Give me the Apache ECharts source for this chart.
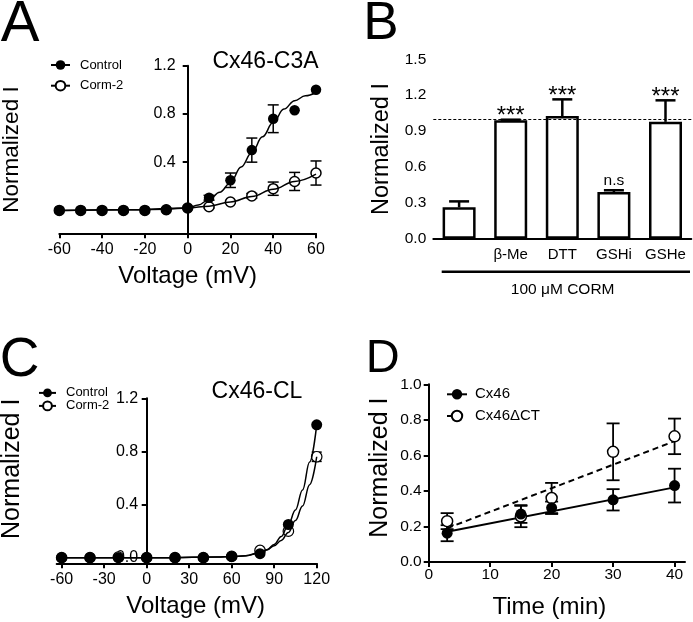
<!DOCTYPE html>
<html><head><meta charset="utf-8">
<script src="https://cdn.jsdelivr.net/npm/echarts@6/dist/echarts.min.js"></script>
<style>html,body{margin:0;padding:0;background:#fff}#c{width:693px;height:622px}</style>
</head><body><div id="c"></div>
<script>
// ---------- Panel A (Cx46-C3A) ----------
const aVoltage = [-60,-50,-40,-30,-20,-10,0,10,20,30,40,50,60];
const aControl = [0,0,0,0,0,0.005,0.02,0.105,0.25,0.5,0.76,0.83,1.0];
const aControlErr = [0,0,0,0,0,0,0,0.02,0.06,0.1,0.115,0,0];
const aCorm = [0,0,0,0,0,0.005,0.02,0.03,0.07,0.12,0.18,0.24,0.31];
const aCormErr = [0,0,0,0,0,0,0,0.01,0.01,0.02,0.055,0.075,0.1];
const aFitV = [-60,-30,-10,0,5,10,15,20,25,30,35,40,45,50,55,60];
const aControlFit = [0,0.005,0.01,0.02,0.045,0.09,0.15,0.23,0.36,0.48,0.61,0.73,0.84,0.91,0.95,0.98];
const aCormFitV = [-60,-30,0,10,20,30,40,50,60];
const aCormFit = [0,0.005,0.02,0.035,0.07,0.115,0.175,0.24,0.3];
const aYTicks = [0.4,0.8,1.2];

// ---------- Panel B ----------
const bCategories = ['', 'β-Me', 'DTT', 'GSHi', 'GSHe'];
const bValues = [0.262, 0.99, 1.025, 0.39, 0.977];
const bErr = [0.05, 0.005, 0.14, 0.015, 0.18];
const bSig = ['', '***', '***', 'n.s', '***'];
const bRef = 1.0;

// ---------- Panel C (Cx46-CL) ----------
const cVoltage = [-60,-40,-20,0,20,40,60,80,100,120];
const cControl = [0,0,0,0,0,0,0.01,0.03,0.25,1.0];
const cCorm = [0,0,0.005,0,0,0,0.01,0.055,0.2,0.76];
const cCormErr = [0,0,0,0,0,0,0,0,0.01,0.035];
const cFitV = [-60,0,50,60,70,80,85,90,95,100,105,110,115,120];
const cControlFit = [0,0,0.005,0.008,0.015,0.035,0.06,0.1,0.16,0.25,0.36,0.51,0.72,1.0];
const cCormFit = [0,0,0.005,0.008,0.015,0.04,0.06,0.09,0.13,0.19,0.28,0.39,0.55,0.76];
const cXTicks = [-60,-30,0,30,60,90,120];
const cYTicks = [0,0.4,0.8,1.2];

// ---------- Panel D ----------
const dTime = [3,15,20,30,40];
const dCx46 = [0.162,0.27,0.305,0.35,0.43];
const dCx46Err = [0.045,0.05,0.035,0.06,0.095];
const dCT = [0.23,0.256,0.36,0.62,0.707];
const dCTErr = [0.045,0.06,0.085,0.16,0.1];
const dFitT = [3,40];
const dCx46Fit = [0.17,0.42];
const dCTFit = [0.19,0.68];
const dXTicks = [0,10,20,30,40];

const FF = 'Liberation Sans, Arial, Helvetica, sans-serif';
const K = '#000';
const zip = (xs, ys) => xs.map((x,i)=>[x, ys[i]]);
const zip3 = (xs, ys, es) => xs.map((x,i)=>[x, ys[i], es[i]]);

function errRender(capHalf, lw){
  return function(params, api){
    const x = api.value(0), y = api.value(1), e = api.value(2);
    if (!e) return null;
    const t = api.coord([x, y+e]), b = api.coord([x, y-e]);
    const st = {stroke:K, lineWidth:lw, fill:null};
    return {type:'group', children:[
      {type:'line', shape:{x1:t[0],y1:t[1],x2:b[0],y2:b[1]}, style:st},
      {type:'line', shape:{x1:t[0]-capHalf,y1:t[1],x2:t[0]+capHalf,y2:t[1]}, style:st},
      {type:'line', shape:{x1:b[0]-capHalf,y1:b[1],x2:b[0]+capHalf,y2:b[1]}, style:st}
    ]};
  };
}

function axLine(onZero){ return {onZero:onZero, lineStyle:{color:K, width:2}}; }
const tick = {length:5, lineStyle:{color:K, width:2}};
function lab(fs, margin, extra){ return Object.assign({color:K, fontSize:fs, fontFamily:FF, margin:margin}, extra||{}); }
function nameStyle(fs, extra){ return Object.assign({color:K, fontSize:fs, fontFamily:FF}, extra||{}); }
const fmt1 = v => Number(v).toFixed(1);
const filled = {color:K, opacity:1};
const hollow = (bw)=>({color:'#fff', borderColor:K, borderWidth:bw, opacity:1});

const chart = echarts.init(document.getElementById('c'), null, {renderer:'canvas'});

const option = {
  backgroundColor:'#fff',
  animation:false,
  grid:[
    {left:59.3, top:65.7, width:256.7, height:167.6, outerBoundsMode:'none', containLabel:false},
    {left:433.3, top:59.3, width:258, height:179.4, outerBoundsMode:'none', containLabel:false},
    {left:56.7, top:398.3, width:260, height:165, outerBoundsMode:'none', containLabel:false},
    {left:428.7, top:384.3, width:256.3, height:177.7, outerBoundsMode:'none', containLabel:false}
  ],
  xAxis:[
    {gridIndex:0, type:'value', min:-60, max:60, interval:20,
     axisLine:axLine(false), axisTick:tick, axisLabel:lab(16,8), splitLine:{show:false},
     name:'Voltage (mV)', nameLocation:'middle', nameGap:31, nameMoveOverlap:false, nameTextStyle:nameStyle(24)},
    {gridIndex:1, type:'category', data:bCategories, boundaryGap:true,
     axisLine:axLine(false), axisTick:Object.assign({alignWithLabel:true}, tick), axisLabel:lab(15,9, {interval:0}), splitLine:{show:false}},
    {gridIndex:2, type:'value', min:-63.5, max:120,
     axisLine:axLine(false), axisTick:Object.assign({customValues:cXTicks}, tick), axisLabel:lab(16,8.5,{customValues:cXTicks}), splitLine:{show:false},
     name:'Voltage (mV)', nameLocation:'middle', nameGap:31, nameMoveOverlap:false, nameTextStyle:nameStyle(24,{padding:[0,0,0,18]})},
    {gridIndex:3, type:'value', min:0, max:41.7,
     axisLine:axLine(false), axisTick:Object.assign({customValues:dXTicks}, tick), axisLabel:lab(15.5,5,{customValues:dXTicks}), splitLine:{show:false},
     name:'Time (min)', nameLocation:'middle', nameGap:33, nameMoveOverlap:false, nameTextStyle:nameStyle(24,{padding:[0,15,0,0]})}
  ],
  yAxis:[
    {gridIndex:0, type:'value', min:-0.19, max:1.2, offset:-128.4,
     axisLine:axLine(false), axisTick:Object.assign({customValues:aYTicks}, tick), axisLabel:lab(16,12,{customValues:aYTicks, formatter:fmt1}), splitLine:{show:false},
     name:'Normalized I', nameLocation:'middle', nameGap:164, nameMoveOverlap:false, nameTextStyle:nameStyle(22.5)},
    {gridIndex:1, type:'value', min:0, max:1.5, interval:0.3,
     axisLine:axLine(false), axisTick:tick, axisLabel:lab(15.5,7,{formatter:fmt1}), splitLine:{show:false},
     name:'Normalized I', nameLocation:'middle', nameGap:40, nameMoveOverlap:false, nameTextStyle:nameStyle(23.5)},
    {gridIndex:2, type:'value', min:-0.042, max:1.2, offset:-90,
     axisLine:axLine(false), axisTick:Object.assign({customValues:cYTicks}, tick), axisLabel:lab(16,8.5,{customValues:cYTicks, formatter:fmt1}), splitLine:{show:false},
     name:'Normalized I', nameLocation:'middle', nameGap:122, nameMoveOverlap:false, nameTextStyle:nameStyle(25,{padding:[0,0,0,24]})},
    {gridIndex:3, type:'value', min:0, max:1.0, interval:0.2,
     axisLine:axLine(false), axisTick:tick, axisLabel:lab(15.5,7,{formatter:fmt1}), splitLine:{show:false},
     name:'Normalized I', nameLocation:'middle', nameGap:36, nameMoveOverlap:false, nameTextStyle:nameStyle(25,{padding:[0,0,0,11]})}
  ],
  legend:[
    {left:50, top:58.5, padding:0, orient:'vertical', itemWidth:19, itemHeight:12, itemGap:7.7,
     textStyle:{color:K, fontSize:13, fontFamily:FF, lineHeight:13, padding:[0,0,0,5]}, data:['Control','Corm-2'], selectedMode:false},
    {left:38, top:386.4, padding:0, orient:'vertical', itemWidth:17, itemHeight:11, itemGap:0,
     textStyle:{color:K, fontSize:13, fontFamily:FF, lineHeight:12.6, padding:[0,0,0,5]}, data:['Control','Corm-2'], selectedMode:false},
    {left:446, top:386.8, padding:0, orient:'vertical', itemWidth:20, itemHeight:13, itemGap:6.7,
     textStyle:{color:K, fontSize:15, fontFamily:FF, lineHeight:15, padding:[0,0,0,3]}, data:['Cx46','Cx46ΔCT'], selectedMode:false}
  ],
  graphic:[
    {type:'text', x:20, y:25, style:{text:'A', font:'58px '+FF, fill:K, textAlign:'center', textVerticalAlign:'middle'}},
    {type:'text', x:381, y:24, style:{text:'B', font:'53px '+FF, fill:K, textAlign:'center', textVerticalAlign:'middle'}},
    {type:'text', x:19.5, y:361, style:{text:'C', font:'55px '+FF, fill:K, textAlign:'center', textVerticalAlign:'middle'}},
    {type:'text', x:382.7, y:359, style:{text:'D', font:'47px '+FF, fill:K, textAlign:'center', textVerticalAlign:'middle'}},
    {type:'text', x:265.5, y:62, style:{text:'Cx46-C3A', font:'23px '+FF, fill:K, textAlign:'center', textVerticalAlign:'middle'}},
    {type:'text', x:257, y:392, style:{text:'Cx46-CL', font:'23px '+FF, fill:K, textAlign:'center', textVerticalAlign:'middle'}},
    {type:'line', shape:{x1:441.7, y1:271.7, x2:690, y2:271.7}, style:{stroke:K, lineWidth:2.5}},
    {type:'text', x:562.7, y:290, style:{text:'100 μM CORM', font:'15.5px '+FF, fill:K, textAlign:'center', textVerticalAlign:'middle'}}
  ],
  series:[
    // ---- A ----
    {type:'custom', name:'aCtrlErr', xAxisIndex:0, yAxisIndex:0, renderItem:errRender(5.5,1.5), data:zip3(aVoltage,aControl,aControlErr), encode:{x:0,y:1}, z:2, silent:true},
    {type:'custom', name:'aCormErr', xAxisIndex:0, yAxisIndex:0, renderItem:errRender(5.5,1.5), data:zip3(aVoltage,aCorm,aCormErr), encode:{x:0,y:1}, z:2, silent:true},
    {type:'scatter', name:'aCormPts', xAxisIndex:0, yAxisIndex:0, data:zip(aVoltage,aCorm), symbol:'circle', symbolSize:10,
     itemStyle:hollow(1.5), z:3, silent:true},
    {type:'scatter', name:'aCtrlPts', xAxisIndex:0, yAxisIndex:0, data:zip(aVoltage,aControl), symbol:'circle', symbolSize:10.5,
     itemStyle:filled, z:4, silent:true},
    {type:'line', name:'Control', xAxisIndex:0, yAxisIndex:0, data:zip(aFitV,aControlFit), smooth:0.4, smoothMonotone:'x',
     symbol:'circle', showSymbol:false, itemStyle:filled, lineStyle:{color:K, width:1.5}, z:5, silent:true},
    {type:'line', name:'Corm-2', xAxisIndex:0, yAxisIndex:0, data:zip(aCormFitV,aCormFit), smooth:0.4, smoothMonotone:'x',
     symbol:'emptyCircle', showSymbol:false, itemStyle:filled, lineStyle:{color:K, width:1.5}, z:5, silent:true},
    // ---- B ----
    {type:'bar', name:'bBars', xAxisIndex:1, yAxisIndex:1, data:bValues, barWidth:33,
     itemStyle:{color:'#fff', borderColor:K, borderWidth:2.5, opacity:1}, z:2, silent:true,
     markLine:{silent:true, symbol:'none', label:{show:false}, lineStyle:{color:K, width:1, type:[3,2], opacity:1}, data:[{yAxis:bRef}]}},
    {type:'custom', name:'bErr', xAxisIndex:1, yAxisIndex:1, silent:true, z:3,
     data:bValues.map((v,i)=>[i, v, bErr[i]]), encode:{x:0,y:1},
     renderItem:function(params, api){
       const i = api.value(0), v = api.value(1), e = api.value(2);
       const b = api.coord([i, v]), t = api.coord([i, v+e]);
       const st = {stroke:K, lineWidth:2.5, fill:null};
       const ch = [
         {type:'line', shape:{x1:b[0],y1:b[1],x2:t[0],y2:t[1]}, style:st},
         {type:'line', shape:{x1:t[0]-10,y1:t[1],x2:t[0]+10,y2:t[1]}, style:st}
       ];
       const s = bSig[params.dataIndex];
       if (s) {
         const star = s === '***';
         ch.push({type:'text', x:t[0], y:t[1] - (star ? 3 : 10),
           style:{text:s, font:(star?'24px ':'15.5px ')+FF, fill:K, textAlign:'center', textVerticalAlign:'middle'}});
       }
       return {type:'group', children:ch};
     }},
    // ---- C ----
    {type:'custom', name:'cCormErr', xAxisIndex:2, yAxisIndex:2, renderItem:errRender(5,1.5), data:zip3(cVoltage,cCorm,cCormErr), encode:{x:0,y:1}, z:2, silent:true},
    {type:'scatter', name:'cCormPts', xAxisIndex:2, yAxisIndex:2, data:zip(cVoltage,cCorm), symbol:'circle', symbolSize:10.5,
     itemStyle:hollow(1.2), z:3, silent:true},
    {type:'scatter', name:'cCtrlPts', xAxisIndex:2, yAxisIndex:2, data:zip(cVoltage,cControl), symbol:'circle', symbolSize:11,
     itemStyle:filled, z:4, silent:true},
    {type:'line', name:'Control', xAxisIndex:2, yAxisIndex:2, data:zip(cFitV,cControlFit), smooth:0.4, smoothMonotone:'x',
     symbol:'circle', showSymbol:false, itemStyle:filled, lineStyle:{color:K, width:1.5}, z:5, silent:true},
    {type:'line', name:'Corm-2', xAxisIndex:2, yAxisIndex:2, data:zip(cFitV,cCormFit), smooth:0.4, smoothMonotone:'x',
     symbol:'emptyCircle', showSymbol:false, itemStyle:filled, lineStyle:{color:K, width:1.5}, z:5, silent:true},
    // ---- D ----
    {type:'line', name:'Cx46', xAxisIndex:3, yAxisIndex:3, data:zip(dFitT,dCx46Fit),
     symbol:'circle', showSymbol:false, itemStyle:filled, lineStyle:{color:K, width:2}, z:2, silent:true},
    {type:'line', name:'Cx46ΔCT', xAxisIndex:3, yAxisIndex:3, data:zip(dFitT,dCTFit),
     symbol:'emptyCircle', showSymbol:false, itemStyle:filled, lineStyle:{color:K, width:2, type:[6,4]}, z:2, silent:true},
    {type:'custom', name:'dCx46Err', xAxisIndex:3, yAxisIndex:3, renderItem:errRender(6.5,1.8), data:zip3(dTime,dCx46,dCx46Err), encode:{x:0,y:1}, z:3, silent:true},
    {type:'custom', name:'dCTErr', xAxisIndex:3, yAxisIndex:3, renderItem:errRender(6.5,1.8), data:zip3(dTime,dCT,dCTErr), encode:{x:0,y:1}, z:3, silent:true},
    {type:'scatter', name:'dCTPts', xAxisIndex:3, yAxisIndex:3, data:zip(dTime,dCT), symbol:'circle', symbolSize:11,
     itemStyle:hollow(1.5), z:4, silent:true},
    {type:'scatter', name:'dCx46Pts', xAxisIndex:3, yAxisIndex:3, data:zip(dTime,dCx46), symbol:'circle', symbolSize:11,
     itemStyle:filled, z:5, silent:true}
  ]
};
chart.setOption(option);
</script>
</body></html>
